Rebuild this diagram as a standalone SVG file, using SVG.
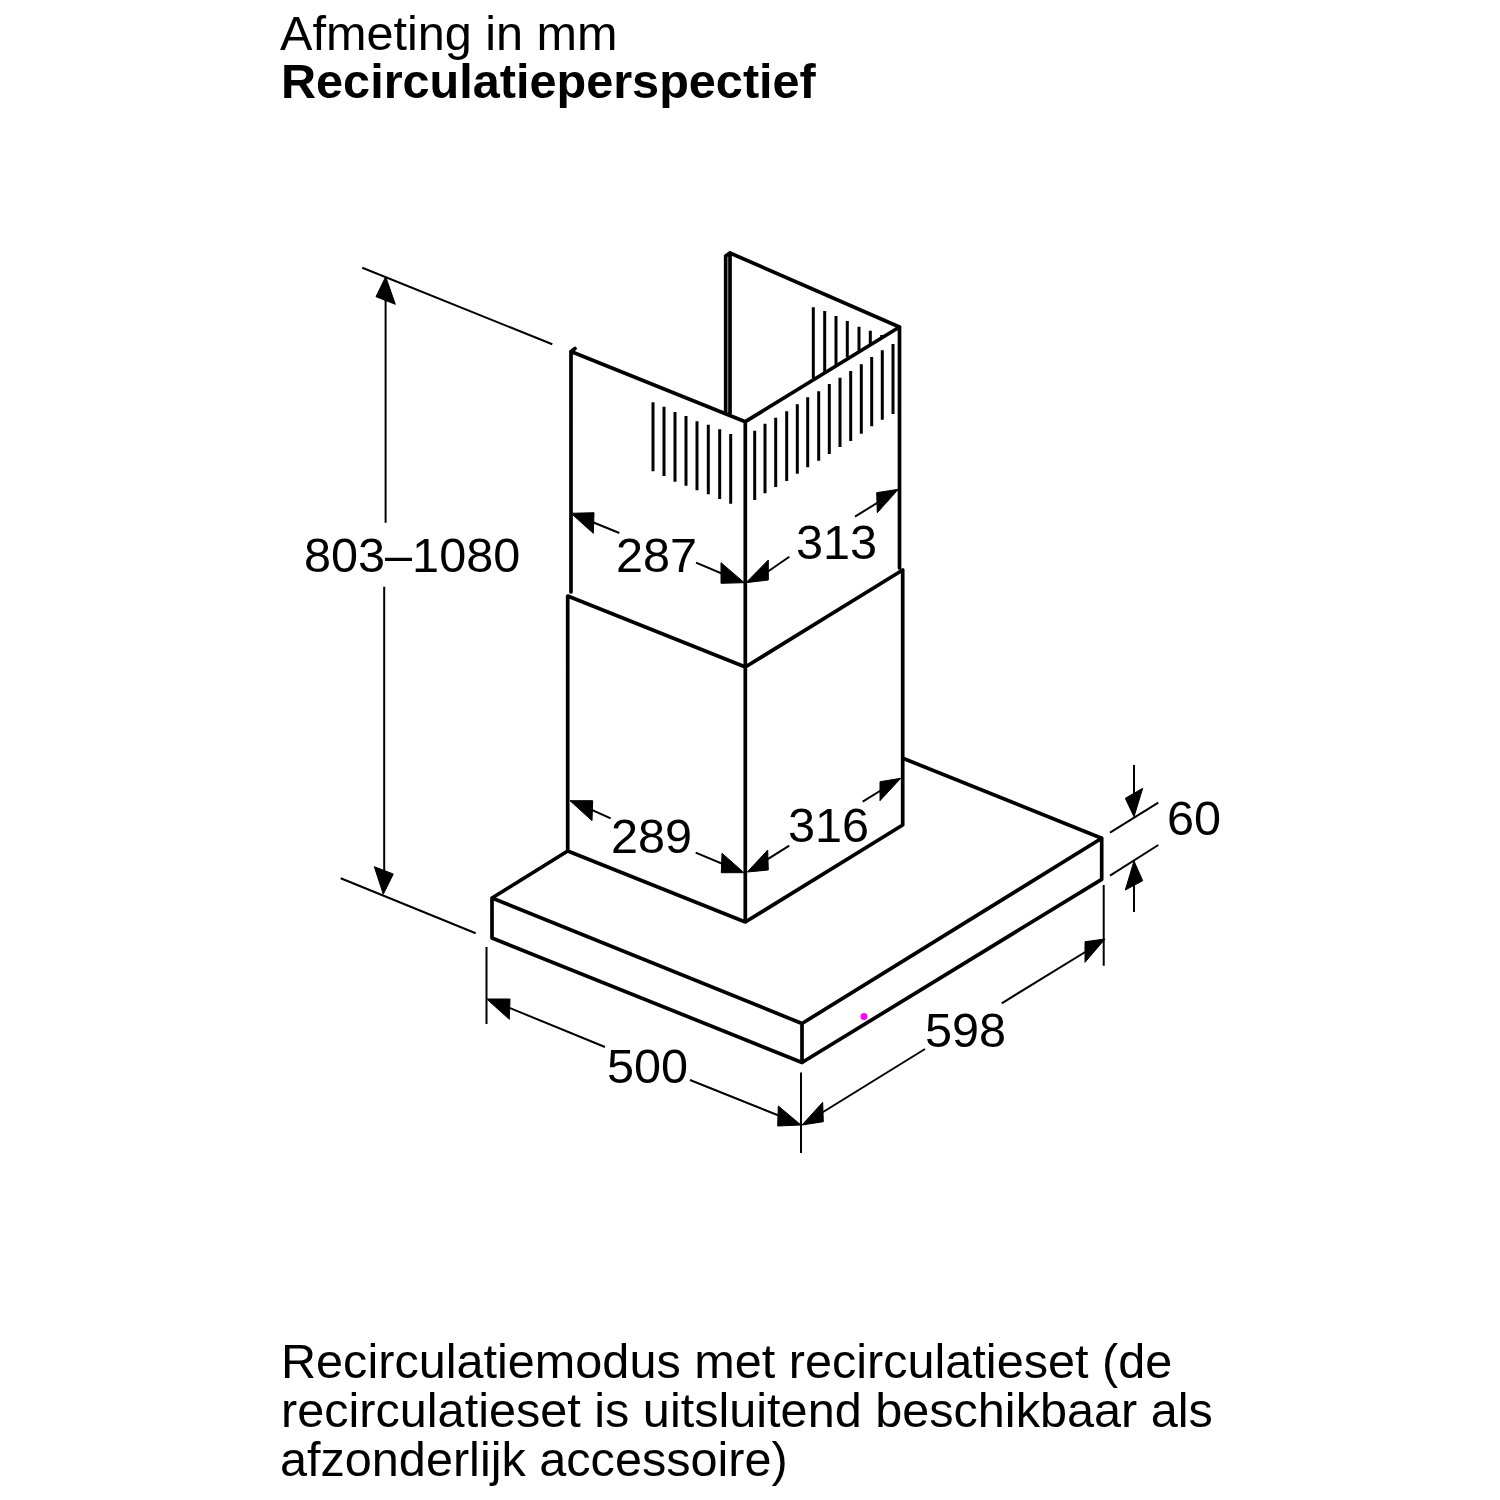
<svg xmlns="http://www.w3.org/2000/svg" width="1500" height="1500" viewBox="0 0 1500 1500">
<style>
text{font-family:"Liberation Sans",Arial,sans-serif;fill:#000}
.t{font-size:48.600px}
.b{font-size:48.600px;font-weight:bold}
.d{font-size:48.600px}
.e{fill:none;stroke:#000;stroke-width:3.700;stroke-linejoin:round;stroke-linecap:round}
.s{fill:none;stroke:#000;stroke-width:3}
.l{fill:none;stroke:#000;stroke-width:2}
.a{fill:#000;stroke:#000;stroke-width:1;stroke-linejoin:round}
</style>
<rect width="1500" height="1500" fill="#fff"/>
<g id="title">
<text class="t" x="280" y="50">Afmeting in mm</text>
<text class="b" x="281" y="98">Recirculatieperspectief</text>
</g>
<g id="hood">
<path class="e" d="M492 898L802 1023.500V1062.500L492 938ZM492 898L567.700 851M802 1023.500L1101.700 838.300V879.300L802 1062.500M903.500 758.500L1101.700 838.300"/>
</g>
<g id="lower-chimney">
<path class="e" d="M567.700 851V596L745.300 667L902.700 570V825L745.300 922L567.700 851M745.300 667V922"/>
</g>
<g id="upper-chimney">
<path class="e" d="M571 592V351.500L745.300 421.700L899.500 327V568M745.300 421.700V667M730 253L899.500 327M730 253V414M725.700 256V413M725.700 256L730 253M571 351.500L575 348.500"/>
</g>
<g id="slits">
<path class="s" d="M653 402.300V471.300M664 406.700V476M675 412V481.700M686 416V485.700M697 421.300V490.300M708.300 424.700V494.300M719.700 429.300V499M730.700 434V503.700"/>
<path class="s" d="M754.700 430.700V500M765 423.700V493.300M775.700 417.700V487M786.700 411.300V481M797.300 404.300V473.700M807.700 397.300V467.300M818.700 391.300V460.700M829.300 384V454M840 377.700V447M850.700 371V441M861.300 364.300V433.700M871.700 357V426.300M882.300 350.300V419.700M893 344V414"/>
<path class="s" d="M813.300 307.300V378.300M824.700 311V372M836 316V365M847.300 321V357.300M859 326.700V350.700M870.300 330.700V344M881.700 335V337.300"/>
</g>
<g id="connectors">
<path class="l" d="M362.300 267.700L552.300 344.300M340.700 878.300L475.700 933.300M486.500 947V1024M801 1072.500V1153M1103.700 885V965.700M1110 832.700L1158.300 802.700M1110 875.700L1158.300 845"/>
<path class="l" d="M385.600 285V522.700M384.200 586.700V880"/>
<path class="l" d="M500 1004L605 1047M690 1080L790 1120M815 1117L925 1049M1001.700 1003.300L1095 946M1134 765V805M1134 872V912M585 519L619.300 533M696 562.700L730 577M760 577L789.300 556.700M855 516.700L885 498M582 805.500L610.700 818.300M695.700 852.700L730 867M760 864L789.300 845.700M862.700 801.700L888 786"/>
<g class="a">
<polygon points="385.700,276.700 376,296.700 395.300,304.300"/>
<polygon points="383.300,894.300 374.300,866.700 393.300,874"/>
<polygon points="571,513.300 594,512.700 593.300,533.300"/>
<polygon points="744.300,582.700 721,583.300 721,562.700"/>
<polygon points="746,582.700 768.300,580 768.300,560"/>
<polygon points="898.300,489.300 876.700,492.700 877.300,512.700"/>
<polygon points="570,800.700 592.700,800.700 592,820.700"/>
<polygon points="744,872.700 721.300,872.700 722,853.300"/>
<polygon points="747.300,872 768.300,870 767.700,850"/>
<polygon points="900.700,778.300 880,781.700 880,800.700"/>
<polygon points="486.700,999 510,999 509.300,1019.300"/>
<polygon points="801,1125 777.700,1126 778.300,1106"/>
<polygon points="802,1125 823.300,1121.700 822.700,1102.300"/>
<polygon points="1105,939 1085,941.700 1085,962.300"/>
<polygon points="1134,816.700 1125.300,798.300 1142.700,788.300"/>
<polygon points="1134,861 1142.700,880.700 1125.300,890"/>
</g>
</g>
<g id="dimensions">
<text class="d" x="304" y="572">803–1080</text>
<text class="d" x="616" y="572">287</text>
<text class="d" x="796" y="559">313</text>
<text class="d" x="611" y="853">289</text>
<text class="d" x="788" y="842">316</text>
<text class="d" x="607" y="1083">500</text>
<text class="d" x="925" y="1047">598</text>
<text class="d" x="1167" y="835">60</text>
</g>
<circle id="marker-dot" cx="864" cy="1016.500" r="3.500" fill="#f0f"/>
<g id="note">
<text class="t" x="281" y="1378">Recirculatiemodus met recirculatieset (de</text>
<text class="t" x="281" y="1427">recirculatieset is uitsluitend beschikbaar als</text>
<text class="t" x="280" y="1476">afzonderlijk accessoire)</text>
</g>
</svg>
